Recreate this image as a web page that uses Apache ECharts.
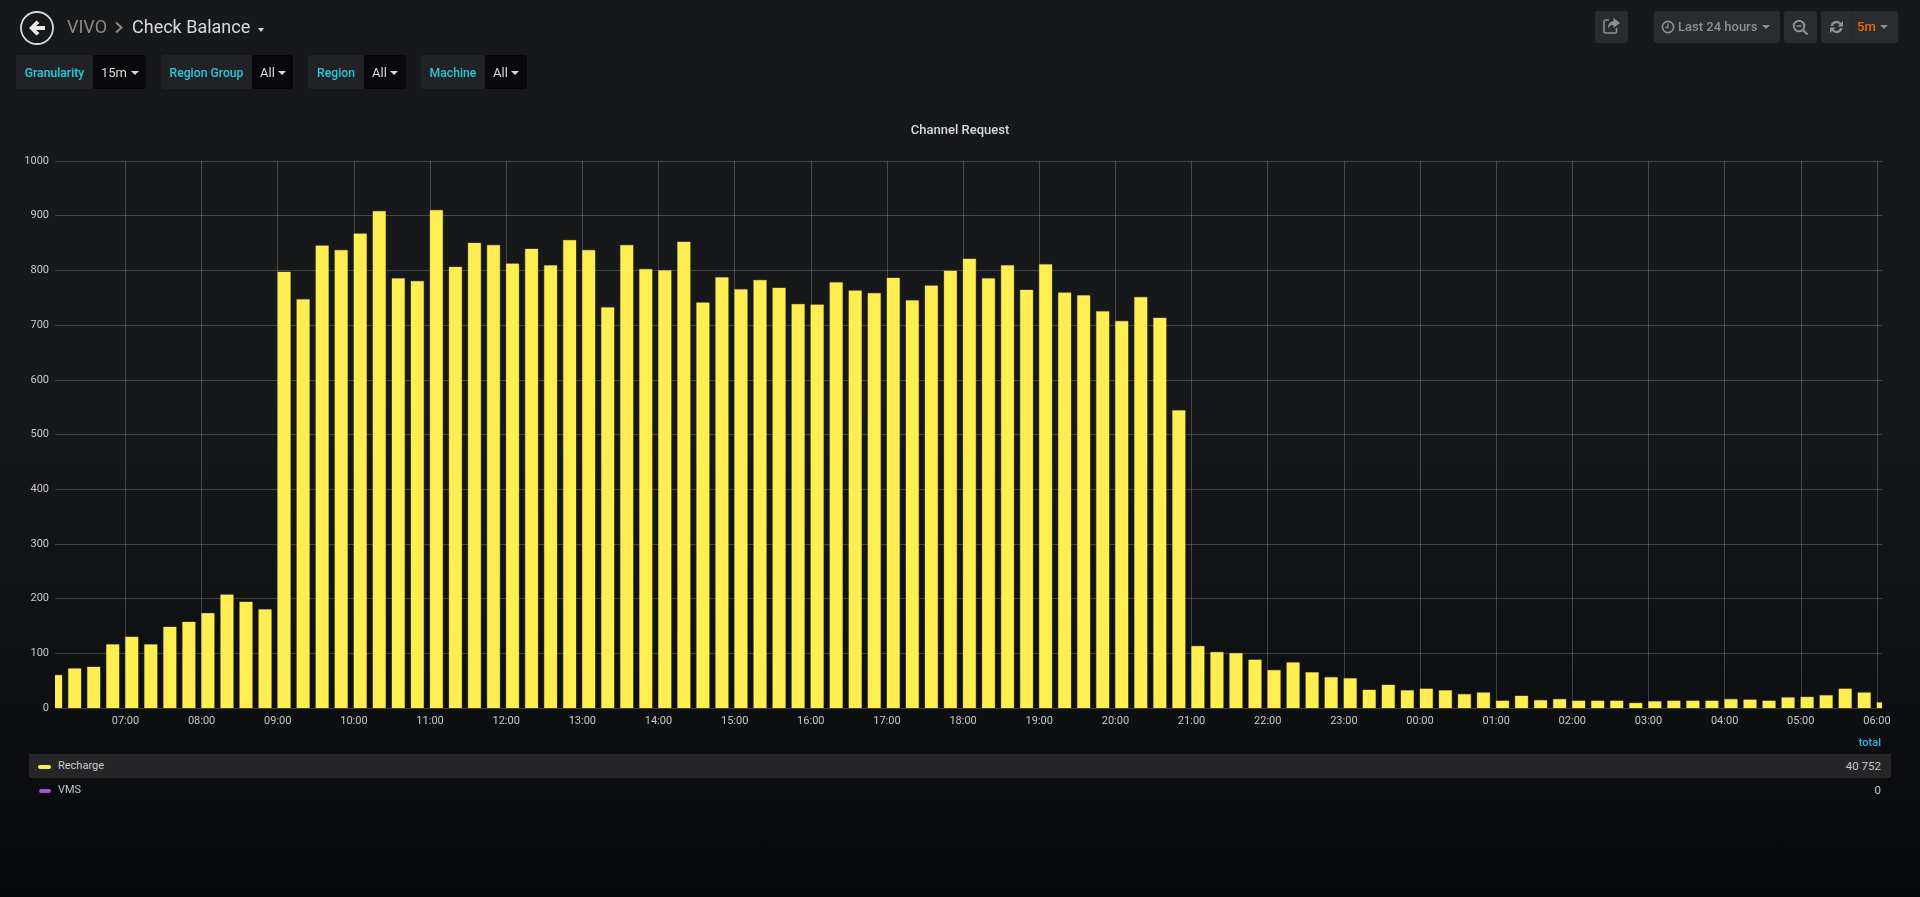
<!DOCTYPE html>
<html><head><meta charset="utf-8">
<script src="https://cdn.jsdelivr.net/npm/echarts@6/dist/echarts.min.js"></script>
<style>
html,body{margin:0;padding:0;width:1920px;height:897px;overflow:hidden;font-family:Roboto,sans-serif;
 background:linear-gradient(#17181a 0,#17181a 45%,#0e0f11 80%,#07080a 100%);}
#chart{position:absolute;left:0;top:0;width:1920px;height:897px;}
.abs{position:absolute;white-space:nowrap;}
.crumb{top:27px;transform:translateY(-50%);font-size:18px;line-height:24px;}
.lab{top:55px;height:34px;line-height:36px;background:#212226;border-radius:3px 0 0 3px;color:#2ac6d9;font-size:12.2px;font-weight:500;box-sizing:border-box;text-align:center;}
.val{top:55px;height:34px;line-height:35px;background:#09090b;border-radius:0 3px 3px 0;color:#d8d9da;font-size:13px;box-sizing:border-box;}
.caret{position:absolute;width:0;height:0;border-left:4px solid transparent;border-right:4px solid transparent;border-top:4px solid #d8d9da;}
.btn{top:11px;height:32px;background:#2b2c2e;border-radius:3px;}
.btntext{top:11px;line-height:32px;font-size:13px;font-weight:500;color:#8e8f91;}
.lg{font-size:11px;color:#c8c9ca;line-height:24px;}
</style></head><body>
<div id="chart"></div>

<svg class="abs" style="left:18px;top:10px" width="38" height="36" viewBox="0 0 38 36">
 <circle cx="19" cy="18" r="16" fill="none" stroke="#d8d9da" stroke-width="1.8"/>
 <path d="M11 18 L18.5 10.5 L21.5 13 L18 16 L27 16 L27 20 L18 20 L21.5 23 L18.5 25.5 Z" fill="#e8e8e8"/>
</svg>
<div class="abs crumb" style="left:67px;color:#8a8a8a">VIVO</div>
<svg class="abs" style="left:114px;top:21px" width="10" height="13" viewBox="0 0 10 13"><path d="M2 1.5 L7.5 6.5 L2 11.5" fill="none" stroke="#8a8a8a" stroke-width="2"/></svg>
<div class="abs crumb" style="left:132px;color:#d8d9da">Check Balance</div>
<div class="caret" style="left:258px;top:28px;border-left-width:3.5px;border-right-width:3.5px"></div>

<div class="abs lab" style="left:16px;width:77px">Granularity</div>
<div class="abs val" style="left:93px;width:53px;padding-left:8px">15m</div><div class="caret" style="left:131px;top:71px"></div>
<div class="abs lab" style="left:161px;width:91px">Region Group</div>
<div class="abs val" style="left:252px;width:41px;padding-left:8px">All</div><div class="caret" style="left:278px;top:71px"></div>
<div class="abs lab" style="left:308px;width:56px">Region</div>
<div class="abs val" style="left:364px;width:42px;padding-left:8px">All</div><div class="caret" style="left:390px;top:71px"></div>
<div class="abs lab" style="left:421px;width:64px">Machine</div>
<div class="abs val" style="left:485px;width:42px;padding-left:8px">All</div><div class="caret" style="left:511px;top:71px"></div>

<div class="abs btn" style="left:1595px;width:33px"></div>
<svg class="abs" style="left:1603px;top:17px" width="18" height="18" viewBox="0 0 18 18"><path d="M6 3 H2.5 Q1 3 1 4.5 V14.5 Q1 16 2.5 16 H12 Q13.5 16 13.5 14.5 V11" fill="none" stroke="#8e8f91" stroke-width="1.6"/><path d="M10.5 1 L17 6 L10.5 11 V8 Q6 8 5 12 Q4.5 5 10.5 4 Z" fill="#8e8f91"/></svg>
<div class="abs btn" style="left:1654px;width:126px"></div>
<svg class="abs" style="left:1661px;top:20px" width="14" height="14" viewBox="0 0 14 14"><circle cx="7" cy="7" r="5.6" fill="none" stroke="#8e8f91" stroke-width="1.6"/><path d="M7 3.5 V7.5 H4.5" fill="none" stroke="#8e8f91" stroke-width="1.3"/></svg>
<div class="abs btntext" style="left:1678px">Last 24 hours</div>
<div class="caret" style="left:1762px;top:25px;border-top-color:#8e8f91"></div>
<div class="abs btn" style="left:1784px;width:33px"></div>
<svg class="abs" style="left:1792px;top:19px" width="17" height="17" viewBox="0 0 17 17"><circle cx="7" cy="7" r="5.3" fill="none" stroke="#8e8f91" stroke-width="2"/><path d="M4.5 7 H9.5" stroke="#8e8f91" stroke-width="1.6"/><path d="M11 11 L15.5 15.5" stroke="#8e8f91" stroke-width="2.2"/></svg>
<div class="abs btn" style="left:1821px;width:77px"></div>
<div class="abs" style="left:1851px;top:11px;width:1px;height:32px;background:#232426"></div>
<svg class="abs" style="left:1829px;top:19px" width="15" height="16" viewBox="0 0 15 16"><path d="M1.5 7 A6 6 0 0 1 12 4 L14 2 V7.5 H8.5 L10.5 5.5 A3.8 3.8 0 0 0 4 7 Z M13.5 9 A6 6 0 0 1 3 12 L1 14 V8.5 H6.5 L4.5 10.5 A3.8 3.8 0 0 0 11 9 Z" fill="#8e8f91"/></svg>
<div class="abs btntext" style="left:1857px;color:#f46800">5m</div>
<div class="caret" style="left:1880px;top:25px;border-top-color:#8e8f91"></div>

<div class="abs" style="right:39px;top:736px;font-size:11px;font-weight:500;color:#33b5e5;line-height:14px">total</div>
<div class="abs" style="left:29px;top:754px;width:1862px;height:24px;background:#262628"></div>
<div class="abs" style="left:38px;top:765px;width:13px;height:4px;border-radius:2px;background:#FFEE52"></div>
<div class="abs lg" style="left:58px;top:754px">Recharge</div>
<div class="abs lg" style="right:39px;top:754px;font-size:11.5px" id="tot0">40 752</div>
<div class="abs" style="left:39px;top:789px;width:12px;height:4px;border-radius:2px;background:#A352CC"></div>
<div class="abs lg" style="left:58px;top:778px">VMS</div>
<div class="abs lg" style="right:39px;top:778px;font-size:11.5px">0</div>

<script>
const seriesNames = ['Recharge', 'VMS'];
const titleText = 'Channel Request';
const binStartHour = 6;          // first bin 06:00, one bin every 15 minutes
const binMinutes = 15;
const recharge = [
 60,72,75,116,130,116,148,157,173,207,194,180,
 797,747,845,837,867,908,785,780,910,806,850,846,
 812,839,809,855,837,732,846,802,800,852,741,787,
 765,782,768,738,737,778,763,758,786,745,772,799,
 821,785,809,764,811,759,754,725,707,751,713,544,
 113,102,100,88,69,83,65,56,54,33,42,32,
 35,32,25,28,13,22,14,16,13,13,13,9,
 12,13,13,13,16,15,13,19,20,23,35,28,10
];
const vms = recharge.map(() => 0);
const yTicks = {min:0, max:1000, step:100};

const MIN = 60000, H = 3600000;
const t0 = new Date(2019,0,1,binStartHour,0,0).getTime();
const times = recharge.map((_, i) => t0 + i*binMinutes*MIN);
const pad = n => String(n).padStart(2,'0');

// Each bar runs from its bin time over 10 of the 15 minutes, placed through the axes
const barSpan = 10*MIN;
function renderBar(params, api){
  const a = api.coord([api.value(0), 0]);
  const b = api.coord([api.value(0)+barSpan, api.value(1)]);
  const shape = echarts.graphic.clipRectByRect(
    {x:a[0], y:b[1], width:b[0]-a[0], height:a[1]-b[1]},
    {x:params.coordSys.x, y:params.coordSys.y, width:params.coordSys.width, height:params.coordSys.height});
  return shape && {type:'rect', shape, style:api.style()};
}

const chart = echarts.init(document.getElementById('chart'), null, {renderer:'canvas'});
chart.setOption({
  animation:false,
  backgroundColor:'transparent',
  title:{text:titleText,left:'center',top:118,
    textStyle:{color:'#d8d9da',fontFamily:'Roboto',fontSize:13,fontWeight:500,lineHeight:15}},
  grid:{left:55,right:38,top:161,bottom:189,containLabel:false},
  xAxis:{type:'time',
    min:new Date(2019,0,1,6,4,30).getTime(),
    max:new Date(2019,0,2,6,4,0).getTime(),
    minInterval:H,maxInterval:H,
    axisLine:{show:false},axisTick:{show:false},
    splitLine:{show:true,showMinLine:false,showMaxLine:false,lineStyle:{color:'rgba(255,255,255,0.2)',width:1}},
    axisLabel:{show:true,color:'#c8c9ca',fontFamily:'Roboto',fontSize:11,margin:8,hideOverlap:false,
      showMinLabel:false,showMaxLabel:false,
      formatter:v=>{const d=new Date(v);return pad(d.getHours())+':'+pad(d.getMinutes());}}},
  yAxis:{type:'value',min:yTicks.min,max:yTicks.max,interval:yTicks.step,
    axisLine:{show:false},axisTick:{show:false},
    splitLine:{show:true,lineStyle:{color:'rgba(255,255,255,0.2)',width:1}},
    axisLabel:{color:'#c8c9ca',fontFamily:'Roboto',fontSize:11,margin:6,formatter:v=>String(v)}},
  series:[
   {name:seriesNames[0],type:'custom',renderItem:renderBar,clip:true,
    encode:{x:0,y:1},
    data:times.map((t,i)=>[t,recharge[i]]),
    itemStyle:{color:'#FFEE52',borderColor:'rgba(255,238,82,0.55)',borderWidth:0.6}},
   {name:seriesNames[1],type:'custom',renderItem:renderBar,clip:true,
    encode:{x:0,y:1},
    data:times.map((t,i)=>[t,vms[i]]),
    itemStyle:{color:'#A352CC',borderWidth:0}}
  ]
});
</script>
</body></html>
